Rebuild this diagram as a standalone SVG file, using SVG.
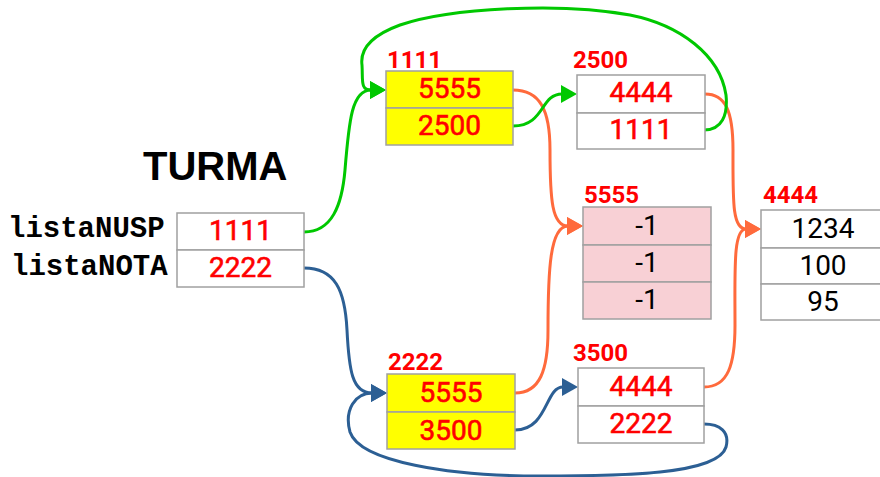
<svg xmlns="http://www.w3.org/2000/svg" width="880" height="477" viewBox="0 0 880 477">
<style>
.cell{stroke:#a0a0a0;stroke-width:1.5}
.w{fill:#ffffff}
.y{fill:#ffff00}
.p{fill:#f8d0d5}
.rv{font-family:Roboto,"Liberation Sans",Arial,sans-serif;font-size:28px;fill:#ff0000;stroke:#ff0000;stroke-width:0.6;text-anchor:middle}
.bv{font-family:Roboto,"Liberation Sans",Arial,sans-serif;font-size:28px;fill:#000000;text-anchor:middle}
.lab{font-family:Roboto,"Liberation Sans",Arial,sans-serif;font-size:24px;font-weight:bold;fill:#ff0000}
.mono{font-family:"Liberation Mono","Courier New",monospace;font-size:29px;font-weight:bold;fill:#000000}
.title{font-family:"Liberation Sans",Arial,sans-serif;font-size:40px;font-weight:bold;fill:#000000}
.g{fill:none;stroke:#00c800;stroke-width:3}
.o{fill:none;stroke:#ff6a3c;stroke-width:3}
.b{fill:none;stroke:#2c5f94;stroke-width:3}
</style>
<defs>
<marker id="ag" markerUnits="userSpaceOnUse" markerWidth="16" markerHeight="18" viewBox="0 0 16 18" refX="1" refY="9" orient="auto"><path d="M0,0 L16,9 L0,18 z" fill="#00c800"/></marker>
<marker id="ao" markerUnits="userSpaceOnUse" markerWidth="16" markerHeight="18" viewBox="0 0 16 18" refX="1" refY="9" orient="auto"><path d="M0,0 L16,9 L0,18 z" fill="#ff6a3c"/></marker>
<marker id="ab" markerUnits="userSpaceOnUse" markerWidth="16" markerHeight="18" viewBox="0 0 16 18" refX="1" refY="9" orient="auto"><path d="M0,0 L16,9 L0,18 z" fill="#2c5f94"/></marker>
</defs>
<rect width="880" height="477" fill="#ffffff"/>

<g id="connectors">
<path class="o" marker-end="url(#ao)" d="M513,90 C540,90 550,110 550,150 C550,200 552,226 568,226"/>
<path class="o" marker-end="url(#ao)" d="M515,393 C540,393 548,370 548,330 C548,270 550,226 568,226"/>
<path class="o" marker-end="url(#ao)" d="M705,94 C725,94 733,110 733,150 C733,200 732,229 746,229"/>
<path class="o" marker-end="url(#ao)" d="M704,387 C728,387 735,365 735,325 C735,270 733,229 746,229"/>
<path class="g" marker-end="url(#ag)" d="M304,232 C332,232 342,205 345,170 C349,120 352,90 371,90"/>
<path class="g" marker-end="url(#ag)" d="M704,130 C722,130 728,115 726,95 C720,55 680,25 630,15 C560,2 450,8 400,25 C370,36 360,50 362,65 C363,80 360,90 371,90"/>
<path class="g" marker-end="url(#ag)" d="M513,126 C545,126 540,94 562,94"/>
<path class="b" marker-end="url(#ab)" d="M304,268 C335,268 345,290 347,330 C349,370 352,393 372,393"/>
<path class="b" marker-end="url(#ab)" d="M515,430 C548,430 545,387 563,387"/>
<path class="b" marker-end="url(#ab)" d="M704,424 C720,424 730,432 726,447 C718,475 620,476 540,476 C450,476 360,462 350,432 C344,410 355,393 372,393"/>
</g>

<g id="turma">
<text class="title" x="143" y="180">TURMA</text>
<text class="mono" x="8" y="237">listaNUSP</text>
<text class="mono" x="11" y="275">listaNOTA</text>
<rect class="cell w" x="177" y="213" width="127" height="37"/>
<rect class="cell w" x="177" y="250" width="127" height="37"/>
<text class="rv" x="240.5" y="240">1111</text>
<text class="rv" x="240.5" y="277">2222</text>
</g>

<g id="node1111">
<text class="lab" x="387" y="68">1111</text>
<rect class="cell y" x="386" y="71" width="127" height="37"/>
<rect class="cell y" x="386" y="108" width="127" height="37"/>
<text class="rv" x="449.5" y="98">5555</text>
<text class="rv" x="449.5" y="135">2500</text>
</g>

<g id="node2500">
<text class="lab" x="573" y="68">2500</text>
<rect class="cell w" x="577" y="75" width="128" height="38"/>
<rect class="cell w" x="577" y="113" width="128" height="36"/>
<text class="rv" x="641" y="102">4444</text>
<text class="rv" x="641" y="139">1111</text>
</g>

<g id="node5555">
<text class="lab" x="584" y="203">5555</text>
<rect class="cell p" x="583" y="207" width="128" height="38"/>
<rect class="cell p" x="583" y="245" width="128" height="37"/>
<rect class="cell p" x="583" y="282" width="128" height="37"/>
<text class="bv" x="647" y="235">-1</text>
<text class="bv" x="647" y="272">-1</text>
<text class="bv" x="647" y="309">-1</text>
</g>

<g id="node4444">
<text class="lab" x="763" y="203">4444</text>
<rect class="cell w" x="761" y="210" width="124" height="38"/>
<rect class="cell w" x="761" y="248" width="124" height="36"/>
<rect class="cell w" x="761" y="284" width="124" height="36"/>
<text class="bv" x="823" y="238">1234</text>
<text class="bv" x="823" y="275">100</text>
<text class="bv" x="823" y="311">95</text>
</g>

<g id="node2222">
<text class="lab" x="388" y="370">2222</text>
<rect class="cell y" x="387" y="374" width="128" height="38"/>
<rect class="cell y" x="387" y="412" width="128" height="37"/>
<text class="rv" x="451" y="402">5555</text>
<text class="rv" x="451" y="440">3500</text>
</g>

<g id="node3500">
<text class="lab" x="573" y="361">3500</text>
<rect class="cell w" x="578" y="368" width="126" height="38"/>
<rect class="cell w" x="578" y="406" width="126" height="37"/>
<text class="rv" x="641" y="396">4444</text>
<text class="rv" x="641" y="433">2222</text>
</g>
</svg>
